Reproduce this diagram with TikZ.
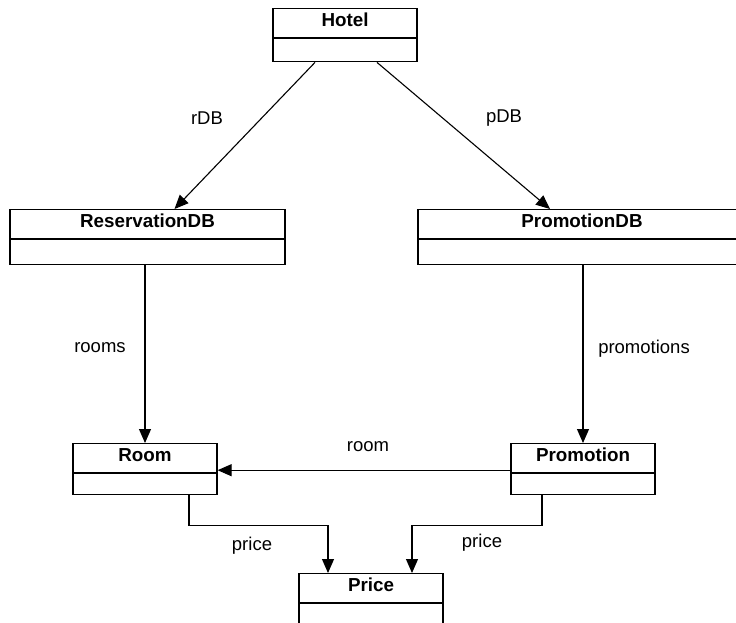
\documentclass[tikz,border=0pt]{standalone}
\usepackage{fontspec}
\setmainfont{Liberation Sans}
\usetikzlibrary{arrows.meta,calc}
\tikzset{
  clsname/.style={draw, line width=1.2pt, anchor=north, font=\fontsize{18.8}{21}\selectfont\bfseries,
    inner xsep=0pt, inner ysep=2pt, text height=16pt, text depth=9pt},
  clsbody/.style={draw, line width=1.2pt, anchor=north, inner sep=0pt},
  assoc/.style={draw, line width=1.1pt, -{Triangle[length=14pt,width=12pt]}},
  lbl/.style={anchor=base, font=\fontsize{18.5}{21}\selectfont, inner sep=0pt}
}
\begin{document}
\begin{tikzpicture}[x=1pt,y=-1pt]
\useasboundingbox (0,0) rectangle (736,622);
\clip (0,0) rectangle (736,622);
% classes
\node[clsname, minimum width=144pt] (hotel) at (345,8) {Hotel};
\node[clsbody, minimum width=144pt, minimum height=23pt] (hotelB) at (hotel.south) {};
\node[clsname, minimum width=275pt] (rdb) at (147.5,209) {ReservationDB};
\node[clsbody, minimum width=275pt, minimum height=25pt] (rdbB) at (rdb.south) {};
\node[clsname, minimum width=328pt] (pdb) at (582,209) {PromotionDB};
\node[clsbody, minimum width=328pt, minimum height=25pt] (pdbB) at (pdb.south) {};
\node[clsname, minimum width=144pt] (room) at (145,443) {Room};
\node[clsbody, minimum width=144pt, minimum height=21pt] (roomB) at (room.south) {};
\node[clsname, minimum width=144pt] (prom) at (583,443) {Promotion};
\node[clsbody, minimum width=144pt, minimum height=21pt] (promB) at (prom.south) {};
\node[clsname, minimum width=144pt] (price) at (371,573) {Price};
\node[clsbody, minimum width=144pt, minimum height=23pt] (priceB) at (price.south) {};
% connectors
\draw[assoc] ($(hotelB.south)+(-30,0)$) -- ($(rdb.north)+(27,0)$);
\draw[assoc] ($(hotelB.south)+(32,0)$) -- ($(pdb.north)+(-32,0)$);
\draw[assoc] (rdbB.south -| room.north) -- (room.north);
\draw[assoc] (pdbB.south -| prom.north) -- (prom.north);
\draw[assoc] ($(prom.south west)+(0,-3)$) -- ($(room.south east)+(0,-3)$);
\draw[assoc] ($(roomB.south)+(44,0)$) -- ++(0,30) -| ($(price.north)+(-43,0)$);
\draw[assoc] ($(promB.south)+(-41,0)$) -- ++(0,30) -| ($(price.north)+(41,0)$);
% labels
\node[lbl] (lrdb) at (207,124) {rDB};
\node[lbl] (lpdb) at (504,122) {pDB};
\node[lbl] (lrooms) at (100,352) {rooms};
\node[lbl] (lpromos) at (644,353) {promotions};
\node[lbl] (lroom) at (368,451) {room};
\node[lbl] (lprice1) at (252,550) {price};
\node[lbl] (lprice2) at (482,547) {price};
\end{tikzpicture}
\end{document}
